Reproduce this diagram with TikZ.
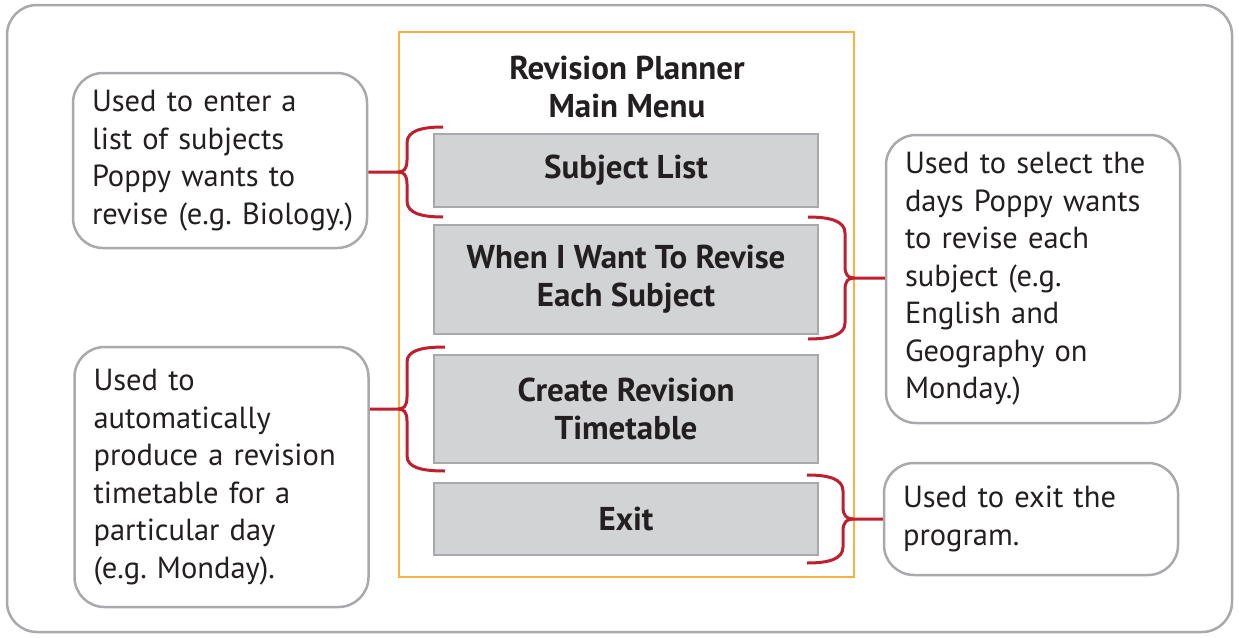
\documentclass[tikz,border=0pt]{standalone}
\usepackage{fontspec}
\setmainfont{PT Sans}
\frenchspacing
\usetikzlibrary{positioning}
\definecolor{framegray}{HTML}{A7A9AC}
\definecolor{btnfill}{HTML}{D1D3D4}
\definecolor{menuorange}{HTML}{FBB040}
\definecolor{bracered}{HTML}{BE1E2D}
\definecolor{inkdark}{HTML}{231F20}

\begin{document}
\begin{tikzpicture}[x=1pt, y=-1pt, text=inkdark,
      every node/.append style={font=\fontsize{30.5}{37.5}\selectfont},
      callout/.style={draw=framegray, line width=2.5pt, rounded corners=30pt, minimum width=294pt, inner xsep=19pt, text width=256pt, align=left},
      menubtn/.style={draw=framegray, line width=2.5pt, fill=btnfill, minimum width=384pt, align=center, font=\fontsize{33}{38}\selectfont\bfseries}]
    \tikzstyle{brace} = [draw=bracered, line width=3pt]
    \useasboundingbox (0,0) rectangle (1239,637);
    \draw[framegray, line width=2.5pt, rounded corners=30pt] (7,5) rectangle (1232,632);
    \draw[menuorange, line width=2.5pt] (399,32) rectangle (854,577);
    \node[align=center, font=\fontsize{33}{38}\selectfont\bfseries] (title) at (627,87) {Revision Planner\\Main Menu};
    \node[menubtn, minimum height=73pt] (subj) at (626,170.5) {Subject List};
    \node[menubtn, minimum height=109pt] (when) at (626,279.5) {When I Want To Revise\\Each Subject};
    \node[menubtn, minimum height=108pt] (create) at (626,409) {Create Revision\\Timetable};
    \node[menubtn, minimum height=72pt] (exit) at (626,519) {Exit};
    \node[callout, minimum height=175pt] (useA) at (220,160.5) {Used to enter a\\list of subjects\\Poppy wants to\\\mbox{revise (e.g. Biology.)}};
    \node[callout, minimum height=260pt] (useB) at (221.5,477) {Used to\\automatically\\produce a revision\\timetable for a\\particular day\\(e.g. Monday).};
    \node[callout, minimum height=288pt] (selC) at (1033,279) {Used to select the\\days Poppy wants\\to revise each\\subject (e.g.\\English and\\Geography on\\Monday.)};
    \node[callout, minimum height=112pt] (exitD) at (1031,519) {Used to exit the\\program.};
    % braces
    \coordinate (tipA) at (398,172);
    \draw[brace] (tipA -| useA.east) -- (tipA) .. controls +(6,0) and +(0,9) .. (407,160) -- (407,143) .. controls +(0,-12) and +(-22,0) .. (443,127);
    \draw[brace] (tipA) .. controls +(6,0) and +(0,-9) .. (407,184) -- (407,201) .. controls +(0,12) and +(-22,0) .. (443,217);
    \coordinate (tipB) at (398,409);
    \draw[brace] (tipB -| useB.east) -- (tipB) .. controls +(6,0) and +(0,9) .. (407,397) -- (407,362) .. controls +(0,-12) and +(-22,0) .. (445,347);
    \draw[brace] (tipB) .. controls +(6,0) and +(0,-9) .. (407,421) -- (407,456) .. controls +(0,12) and +(-22,0) .. (445,471);
    \coordinate (tipC) at (854,278);
    \draw[brace] (tipC -| selC.west) -- (tipC) .. controls +(-6,0) and +(0,9) .. (845,266) -- (845,233) .. controls +(0,-12) and +(22,0) .. (808,217);
    \draw[brace] (tipC) .. controls +(-6,0) and +(0,-9) .. (845,290) -- (845,323) .. controls +(0,12) and +(22,0) .. (808,339);
    \coordinate (tipD) at (853,519);
    \draw[brace] (tipD -| exitD.west) -- (tipD) .. controls +(-6,0) and +(0,9) .. (843,507) -- (843,491) .. controls +(0,-12) and +(22,0) .. (807,475);
    \draw[brace] (tipD) .. controls +(-6,0) and +(0,-9) .. (843,531) -- (843,547) .. controls +(0,12) and +(22,0) .. (807,563);
\end{tikzpicture}
\end{document}
